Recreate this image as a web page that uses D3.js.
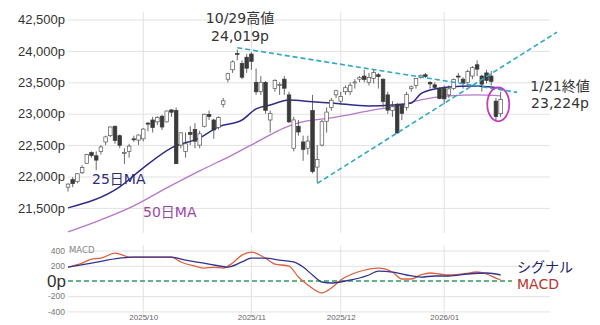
<!DOCTYPE html>
<html>
<head>
<meta charset="utf-8">
<script src="https://cdn.jsdelivr.net/npm/d3@7"></script>
<style>
  body { margin: 0; background: #fff; }
  svg { display: block; font-family: "DejaVu Sans", "Noto Sans CJK JP", sans-serif; }
  .grid line { stroke: #e2e2e2; }
  .grid path { display: none; }
</style>
</head>
<body>
<div id="chart"></div>
<script>
// Trading days shown (US market calendar).
const sepDays = [9, 10, 11, 12, 15, 16, 17, 18, 19, 22, 23, 24, 25, 26, 29, 30];
const octDays = [1, 2, 3, 6, 7, 8, 9, 10, 13, 14, 15, 16, 17, 20, 21, 22, 23, 24, 27, 28, 29, 30, 31];
const novDays = [3, 4, 5, 6, 7, 10, 11, 12, 13, 14, 17, 18, 19, 20, 21, 24, 25, 26, 28];
const decDays = [1, 2, 3, 4, 5, 8, 9, 10, 11, 12, 15, 16, 17, 18, 19, 22, 23, 24, 26, 29, 30, 31];
const janDays = [2, 5, 6, 7, 8, 9, 12, 13, 14, 15, 16, 20, 21];

// Daily candles.
const opens = [
  21830, 21950, 21920, 22060, 22210, 22380, 22330, 22400, 22550, 22650, 22800, 22650, 22370, 22400, 22600, 22580,
  22600, 22850, 22900, 22870, 22960, 22870, 23060, 23050, 22500, 22400, 22700, 22750, 22500, 22800, 22990, 22900, 22780, 23150, 23550, 23700, 23960, 23800, 23900,
  23950, 23500, 23350, 23500, 22900, 23400, 23450, 23550, 23300, 22450, 22800, 22550, 22450, 23050, 22150, 22500, 22880, 23100, 23300,
  23200, 23350, 23350, 23500, 23550, 23600, 23500, 23560, 23620, 23550, 23300, 23050, 23150, 23130, 23100, 23400, 23450, 23580, 23620, 23500, 23460, 23400,
  23400, 23300, 23400, 23600, 23550, 23500, 23600, 23780, 23600, 23650, 23600, 23200, 23000
];
const highs = [
  21890, 21990, 22050, 22180, 22360, 22400, 22400, 22500, 22650, 22800, 22810, 22670, 22450, 22520, 22650, 22670,
  22770, 22870, 22950, 22960, 22980, 23050, 23070, 23100, 22700, 22700, 22800, 22850, 22730, 23000, 23050, 22920, 22960, 23250, 23650, 23850, 24019, 23850, 23950,
  23980, 23720, 23600, 23520, 23050, 23550, 23500, 23600, 23350, 22950, 22900, 22650, 22650, 23300, 22500, 22900, 23100, 23250, 23380,
  23350, 23450, 23500, 23550, 23600, 23700, 23650, 23700, 23650, 23560, 23350, 23200, 23170, 23150, 23350, 23450, 23570, 23620, 23650, 23520, 23500, 23420,
  23450, 23450, 23560, 23650, 23580, 23700, 23760, 23850, 23620, 23700, 23680, 23250, 23350
];
const lows = [
  21760, 21830, 21890, 22040, 22200, 22300, 22100, 22350, 22500, 22630, 22520, 22450, 22200, 22300, 22550, 22500,
  22560, 22720, 22700, 22820, 22740, 22860, 22950, 22200, 22450, 22300, 22500, 22450, 22450, 22780, 22900, 22600, 22750, 23100, 23500, 23650, 23850, 23550, 23650,
  23700, 23300, 23300, 23000, 22700, 23350, 23300, 23300, 22850, 22400, 22650, 22250, 22350, 22050, 21900, 22480, 22700, 23050, 23250,
  23150, 23300, 23300, 23400, 23500, 23500, 23450, 23480, 23400, 23100, 23000, 22950, 22680, 22900, 23050, 23350, 23400, 23560, 23570, 23400, 23400, 23230,
  23150, 23250, 23380, 23500, 23400, 23480, 23550, 23600, 23350, 23480, 23450, 22900, 22950
];
const closes = [
  21879, 21886, 22043, 22141, 22348, 22333, 22261, 22470, 22631, 22788, 22573, 22497, 22384, 22484, 22591, 22660,
  22755, 22844, 22780, 22941, 22788, 23043, 23024, 22204, 22695, 22521, 22670, 22562, 22680, 22991, 22954, 22740, 22942, 23205, 23637, 23827, 23958, 23581, 23725,
  23835, 23349, 23500, 23054, 23005, 23528, 23468, 23406, 22870, 22901, 22709, 22432, 22564, 22078, 22273, 22872, 23026, 23215, 23366,
  23276, 23414, 23454, 23506, 23578, 23545, 23576, 23654, 23593, 23195, 23057, 23111, 22693, 23006, 23307, 23428, 23562, 23613, 23593, 23474, 23419, 23242,
  23236, 23395, 23547, 23584, 23480, 23671, 23733, 23710, 23471, 23530, 23515, 22954, 23224
];

// Moving averages (day index, value).
const ma25Idx = [0, 11, 16, 22, 28, 32, 37, 40, 43, 47, 52, 56, 64, 69, 73, 75, 78, 81, 86, 90, 92];
const ma25Val = [21500, 21835, 22137, 22456, 22615, 22790, 22900, 23077, 23140, 23220, 23190, 23172, 23124, 23140, 23172, 23315, 23395, 23427, 23443, 23427, 23410];
const ma50Idx = [0, 7, 14, 21, 28, 35, 41, 46, 49, 56, 64, 71, 75, 81, 87, 92];
const ma50Val = [21118, 21310, 21532, 21819, 22090, 22344, 22583, 22774, 22854, 22933, 23045, 23140, 23220, 23284, 23300, 23284];

// MACD panel (day index, value).
const macdIdx = [0, 3, 5, 7, 10, 11, 13, 16, 19, 22, 24, 27, 29, 31, 33, 35, 37, 39, 42, 44, 47, 49, 51, 54, 56, 58, 61, 64, 66, 69, 71, 73, 75, 77, 79, 81, 84, 87, 89, 91, 92];
const macdVal = [183, 236, 288, 300, 367, 354, 315, 315, 315, 315, 250, 197, 170, 180, 170, 236, 340, 380, 300, 223, 197, 52, -52, -157, -92, 13, 105, 157, 170, 118, 26, 26, 79, 105, 92, 79, 92, 118, 92, 39, 13];
const signalIdx = [0, 5, 11, 14, 22, 25, 30, 34, 37, 39, 42, 45, 48, 50, 52, 54, 56, 59, 64, 66, 69, 72, 75, 78, 81, 85, 89, 92];
const signalVal = [183, 236, 300, 315, 315, 275, 223, 183, 250, 300, 300, 275, 250, 183, 79, -13, -26, 0, 79, 131, 118, 79, 52, 66, 66, 92, 105, 79];

// Axis ticks.
const priceTicks = [21500, 22000, 22500, 23000, 23500, 24000, 24500];
const priceTickLabels = ["21,500p", "22,000p", "22,500p", "23,000p", "23,500p", "24,000p", "42,500p"];
const macdTicks = [-400, -200, 0, 200, 400];
const macdTickLabels = ["-400", "-200", "0p", "200", "400"];
const monthLabels = ["2025/10", "2025/11", "2025/12", "2026/01"];

// Trend lines [day index, price].
const trendUpper = [[36, 24050], [95.5, 23340]];
const trendLower = [[53, 21890], [104, 24300]];

// Build data.
const dates = [].concat(
  sepDays.map((d) => new Date(2025, 8, d)),
  octDays.map((d) => new Date(2025, 9, d)),
  novDays.map((d) => new Date(2025, 10, d)),
  decDays.map((d) => new Date(2025, 11, d)),
  janDays.map((d) => new Date(2026, 0, d))
);
const candles = dates.map((d, i) => ({
  i: i, date: d, open: opens[i], high: highs[i], low: lows[i], close: closes[i],
}));
const monthStarts = dates
  .map((d, i) => i)
  .filter((i) => i > 0 && dates[i].getMonth() !== dates[i - 1].getMonth());

const width = 600;
const height = 325;
const plotLeft = 68;
const plotRight = 550;

const svg = d3.select("#chart").append("svg")
  .attr("width", width)
  .attr("height", height);

// Scales.
const x = d3.scaleLinear().domain([0, 102.5]).range([plotLeft, plotRight]);
const y = d3.scaleLinear().domain([21100, 24620]).range([233, 12]);
const ym = d3.scaleLinear().domain([-460, 460]).range([316, 246]);

// Grids.
svg.append("g").attr("class", "grid")
  .selectAll("line.v").data(monthStarts).enter()
  .append("line")
  .attr("x1", (d) => x(d)).attr("x2", (d) => x(d))
  .attr("y1", 12).attr("y2", 233);
svg.append("g").attr("class", "grid")
  .selectAll("line.v").data(monthStarts).enter()
  .append("line")
  .attr("x1", (d) => x(d)).attr("x2", (d) => x(d))
  .attr("y1", 245).attr("y2", 316);

const yAxis = d3.axisLeft(y)
  .tickValues(priceTicks)
  .tickFormat((d, i) => priceTickLabels[i])
  .tickSize(-(plotRight - plotLeft))
  .tickPadding(3);
const yAxisDraw = svg.append("g").attr("class", "grid")
  .attr("transform", `translate(${plotLeft},0)`)
  .call(yAxis);
yAxisDraw.selectAll("text")
  .style("font-size", "13px")
  .style("fill", "#333");

const ymAxis = d3.axisLeft(ym)
  .tickValues(macdTicks)
  .tickFormat((d, i) => macdTickLabels[i])
  .tickSize(-(plotRight - plotLeft))
  .tickPadding(3);
const ymAxisDraw = svg.append("g").attr("class", "grid")
  .attr("transform", `translate(${plotLeft},0)`)
  .call(ymAxis);
ymAxisDraw.selectAll("text")
  .style("font-size", "8.5px")
  .style("fill", "#777");
ymAxisDraw.selectAll(".tick")
  .filter((d) => d === 0)
  .call((t) => {
    t.select("line").remove();
    t.select("text").style("font-size", "17px").style("fill", "#333").attr("x", -2);
  });

// X axis labels.
const xAxis = d3.axisBottom(x)
  .tickValues(monthStarts)
  .tickFormat((d, i) => monthLabels[i])
  .tickSize(0)
  .tickPadding(0);
const xAxisDraw = svg.append("g")
  .attr("transform", "translate(0,314)")
  .call(xAxis);
xAxisDraw.select(".domain").remove();
xAxisDraw.selectAll("text")
  .style("font-family", "'Liberation Sans', sans-serif")
  .style("font-size", "8px")
  .style("fill", "#666");

// Zero line.
svg.append("line")
  .attr("x1", plotLeft).attr("x2", 512)
  .attr("y1", ym(0)).attr("y2", ym(0))
  .attr("stroke", "#2e9a60")
  .attr("stroke-width", 1.6)
  .attr("stroke-dasharray", "5,3");

svg.append("text")
  .attr("x", 69).attr("y", 253)
  .text("MACD")
  .style("font-size", "8.5px")
  .style("fill", "#888");

// MACD and signal lines.
const macdLine = d3.line()
  .x((d) => x(d[0]))
  .y((d) => ym(d[1]))
  .curve(d3.curveMonotoneX);
svg.append("path")
  .datum(macdIdx.map((d, i) => [d, macdVal[i]]))
  .attr("d", macdLine)
  .attr("fill", "none")
  .attr("stroke", "#e0603c")
  .attr("stroke-width", 1.3);
svg.append("path")
  .datum(signalIdx.map((d, i) => [d, signalVal[i]]))
  .attr("d", macdLine)
  .attr("fill", "none")
  .attr("stroke", "#33338f")
  .attr("stroke-width", 1.3);

svg.append("text")
  .attr("x", 517).attr("y", 272)
  .text("シグナル")
  .style("font-size", "14px")
  .style("fill", "#22226e");
svg.append("text")
  .attr("x", 517).attr("y", 289)
  .text("MACD")
  .style("font-size", "14px")
  .style("fill", "#b8352d");

// Moving averages.
const priceLine = d3.line()
  .x((d) => x(d[0]))
  .y((d) => y(d[1]))
  .curve(d3.curveMonotoneX);
svg.append("path")
  .datum(ma50Idx.map((d, i) => [d, ma50Val[i]]))
  .attr("d", priceLine)
  .attr("fill", "none")
  .attr("stroke", "#b677cc")
  .attr("stroke-width", 1.3);
svg.append("path")
  .datum(ma25Idx.map((d, i) => [d, ma25Val[i]]))
  .attr("d", priceLine)
  .attr("fill", "none")
  .attr("stroke", "#2d2d8a")
  .attr("stroke-width", 1.5);

// Candles.
const bw = 3.6;
const candleG = svg.append("g");
candleG.selectAll(".wick").data(candles).enter()
  .append("line")
  .attr("x1", (d) => x(d.i)).attr("x2", (d) => x(d.i))
  .attr("y1", (d) => y(d.high)).attr("y2", (d) => y(d.low))
  .attr("stroke", "#444")
  .attr("stroke-width", 0.8);
candleG.selectAll(".body").data(candles).enter()
  .append("rect")
  .attr("x", (d) => x(d.i) - bw / 2)
  .attr("width", bw)
  .attr("y", (d) => y(Math.max(d.open, d.close)))
  .attr("height", (d) => Math.max(1, Math.abs(y(d.open) - y(d.close))))
  .attr("fill", (d) => (d.close >= d.open ? "#fff" : "#3a3a3a"))
  .attr("stroke", (d) => (d.close >= d.open ? "#555" : "#3a3a3a"))
  .attr("stroke-width", 0.7);

// Trend lines.
[trendUpper, trendLower].forEach((t) => {
  svg.append("line")
    .attr("x1", x(t[0][0])).attr("y1", y(t[0][1]))
    .attr("x2", x(t[1][0])).attr("y2", y(t[1][1]))
    .attr("stroke", "#2fa8c8")
    .attr("stroke-width", 1.6)
    .attr("stroke-dasharray", "5,3");
});

// Highlight last candles.
svg.append("ellipse")
  .attr("cx", x(91.5)).attr("cy", y(23150))
  .attr("rx", 11).attr("ry", 17)
  .attr("fill", "none")
  .attr("stroke", "#c03cc0")
  .attr("stroke-width", 1.8);

// Annotations.
const notes = [
  { x: 240, y: 23, t: "10/29高値", c: "#333" },
  { x: 240, y: 41, t: "24,019p", c: "#333" },
  { x: 560, y: 91, t: "1/21終値", c: "#333" },
  { x: 560, y: 108, t: "23,224p", c: "#333" },
];
svg.selectAll(".note").data(notes).enter()
  .append("text")
  .attr("x", (d) => d.x).attr("y", (d) => d.y)
  .attr("text-anchor", "middle")
  .text((d) => d.t)
  .style("font-size", "14px")
  .style("fill", (d) => d.c);

svg.append("text")
  .attr("x", 92).attr("y", 184)
  .text("25日MA")
  .style("font-size", "14px")
  .style("fill", "#2d2d7a");
svg.append("text")
  .attr("x", 143).attr("y", 217)
  .text("50日MA")
  .style("font-size", "14px")
  .style("fill", "#9a48a8");
</script>
</body>
</html>
